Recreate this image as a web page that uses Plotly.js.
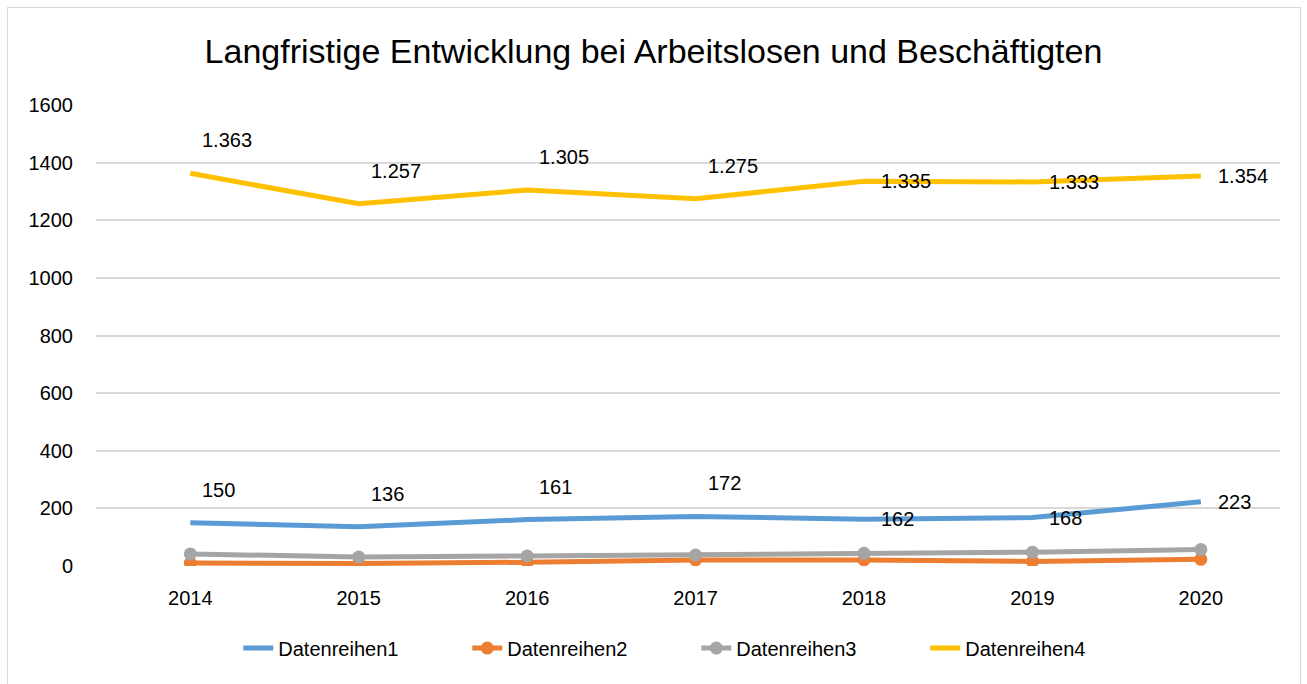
<!DOCTYPE html>
<html>
<head>
<meta charset="utf-8">
<script src="https://cdn.plot.ly/plotly-3.0.1.min.js"></script>
<style>
  body { margin: 0; background: #fff; }
  #frame { position: absolute; left: 7px; top: 7px; width: 1292px; height: 690px; border: 1px solid #d9d9d9; }
  #chart { position: absolute; left: 0; top: 0; width: 1307px; height: 684px; }
</style>
</head>
<body>
<div id="frame"></div>
<div id="chart"></div>
<script>
const years = ['2014', '2015', '2016', '2017', '2018', '2019', '2020'];

const reihe1 = [150, 136, 161, 172, 162, 168, 223];
const reihe2 = [10, 9, 13, 21, 21, 16, 23];
const reihe3 = [42, 31, 35, 38, 44, 48, 57];
const reihe4 = [1363, 1257, 1305, 1275, 1335, 1333, 1354];

// where Excel put the data labels: above-right for the first four years, right after that
const labelAbove = [true, true, true, true, false, false, false];

const FONT = '"Liberation Sans", Arial, sans-serif';

// 1363 -> "1.363"
function deNum(v) {
  var s = String(v);
  if (s.length > 3) s = s.slice(0, s.length - 3) + '.' + s.slice(-3);
  return s;
}

function serie(name, y, color, withMarkers) {
  return {
    x: years, y: y, name: name,
    type: 'scatter',
    mode: withMarkers ? 'lines+markers' : 'lines',
    line: { color: color, width: 5 },
    marker: { color: color, size: 13 },
    hoverinfo: 'skip'
  };
}

var data = [
  serie('Datenreihen1', reihe1, '#5B9BD5', false),
  serie('Datenreihen2', reihe2, '#ED7D31', true),
  serie('Datenreihen3', reihe3, '#A5A5A5', true),
  serie('Datenreihen4', reihe4, '#FFC000', false)
];

// category axis: annotations take the category index
var annotations = [];
[reihe1, reihe4].forEach(function (reihe) {
  for (var i = 0; i < years.length; i++) {
    annotations.push({
      x: i, y: reihe[i],
      xref: 'x', yref: 'y',
      text: deNum(reihe[i]),
      showarrow: false,
      xanchor: 'left', yanchor: 'middle',
      xshift: labelAbove[i] ? 10 : 15,
      yshift: labelAbove[i] ? 33 : 0,
      font: { family: FONT, size: 20, color: '#000' }
    });
  }
});

var layout = {
  width: 1307,
  height: 684,
  paper_bgcolor: 'rgba(0,0,0,0)',
  plot_bgcolor: 'rgba(0,0,0,0)',
  font: { family: FONT, size: 20, color: '#000' },
  title: {
    text: 'Langfristige Entwicklung bei Arbeitslosen und Beschäftigten',
    font: { family: FONT, size: 34, color: '#000' },
    x: 0.5, xanchor: 'center', y: 0.925, yanchor: 'middle'
  },
  margin: { l: 96, r: 27, t: 105, b: 118 },
  xaxis: {
    type: 'category',
    range: [-0.56, 6.47],
    showgrid: false,
    zeroline: false,
    showline: false,
    ticks: '',
    ticklabelstandoff: 18,
    tickfont: { family: FONT, size: 20, color: '#000' }
  },
  yaxis: {
    range: [0, 1600],
    dtick: 200,
    showgrid: true,
    gridcolor: '#d9d9d9',
    gridwidth: 1.5,
    zeroline: false,
    ticks: '',
    ticklabelstandoff: 22,
    tickfont: { family: FONT, size: 20, color: '#000' }
  },
  annotations: annotations,
  showlegend: true,
  legend: {
    orientation: 'h',
    x: 0.507, xanchor: 'center',
    y: -0.178, yanchor: 'middle',
    font: { family: FONT, size: 20, color: '#000' },
    entrywidth: 184,
    traceorder: 'normal'
  }
};

Plotly.newPlot('chart', data, layout, { displayModeBar: false });
</script>
</body>
</html>
